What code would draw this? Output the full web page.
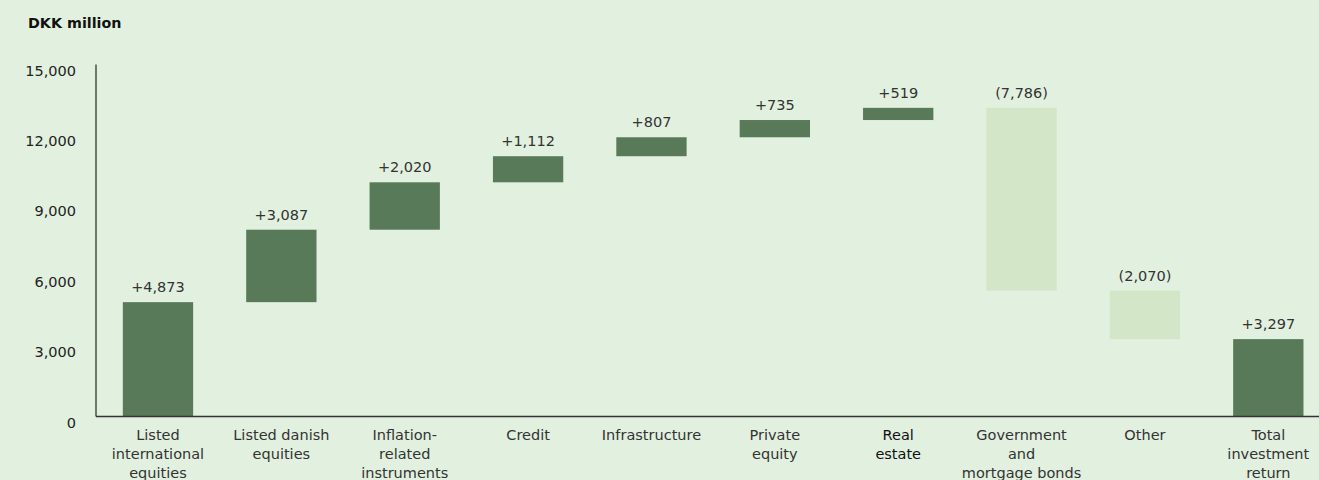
<!DOCTYPE html>
<html>
<head>
<meta charset="utf-8">
<script src="https://cdn.jsdelivr.net/npm/d3@7"></script>
<style>
  html, body { margin: 0; padding: 0; background: #e2f0df; }
  svg { display: block; font-family: "DejaVu Sans", Arial, sans-serif; }
</style>
</head>
<body>
<div id="graf"></div>
<script>
// Datos
const categorias = [
  ["Listed", "international", "equities"],
  ["Listed danish", "equities"],
  ["Inflation-", "related", "instruments"],
  ["Credit"],
  ["Infrastructure"],
  ["Private", "equity"],
  ["Real", "estate"],
  ["Government", "and", "mortgage bonds"],
  ["Other"],
  ["Total", "investment", "return"]
]
const valores = [4873, 3087, 2020, 1112, 807, 735, 519, -7786, -2070, 3297]
const esTotal = [false, false, false, false, false, false, false, false, false, true]
const ticks = [0, 3000, 9000, 6000, 12000, 15000]

const draw = () => {
  const ancho = 1319
  const alto = 480
  const margen = { top: 64.5, left: 96, bottom: 63 }

  const svg = d3
    .select("#graf")
    .append("svg")
    .attr("width", ancho)
    .attr("height", alto)

  // Dataset con acumulados
  let acum = 0
  const dataset = valores.map((v, i) => {
    let y0, y1
    if (esTotal[i]) {
      y0 = 0
      y1 = v
    } else {
      y0 = acum
      y1 = acum + v
      acum = y1
    }
    return { i, v, y0, y1, cat: categorias[i], total: esTotal[i] }
  })

  // Escaladores
  const x = d3
    .scaleBand()
    .domain(d3.range(valores.length))
    .range([96.3, 1330])
    .paddingInner(0.43)
    .paddingOuter(0.215)

  const y = d3
    .scaleLinear()
    .domain([0, 15000])
    .range([alto - margen.bottom - 0.5, margen.top])

  // Titulo
  svg
    .append("text")
    .attr("x", 28)
    .attr("y", 28)
    .attr("font-size", 14.3)
    .attr("font-weight", "bold")
    .attr("fill", "#111")
    .text("DKK million")

  // Eje Y
  svg
    .append("line")
    .attr("x1", margen.left)
    .attr("x2", margen.left)
    .attr("y1", y(15000))
    .attr("y2", y(0))
    .attr("stroke", "#333")
    .attr("stroke-width", 1.3)

  svg
    .append("g")
    .selectAll("text")
    .data(ticks)
    .join("text")
    .attr("x", 76)
    .attr("y", (d) => y(d) + 11)
    .attr("text-anchor", "end")
    .attr("font-size", 14.5)
    .attr("fill", "#222")
    .text((d) => d3.format(",")(d))

  // Barras
  svg
    .append("g")
    .selectAll("rect")
    .data(dataset)
    .join("rect")
    .attr("x", (d) => x(d.i))
    .attr("y", (d) => y(Math.max(d.y0, d.y1)))
    .attr("width", x.bandwidth())
    .attr("height", (d) => Math.abs(y(d.y0) - y(d.y1)))
    .attr("fill", (d) => (d.v < 0 ? "#d3e6c7" : "#587a59"))

  // Etiquetas de valor
  svg
    .append("g")
    .selectAll("text")
    .data(dataset)
    .join("text")
    .attr("x", (d) => x(d.i) + x.bandwidth() / 2)
    .attr("y", (d) => y(Math.max(d.y0, d.y1)) - 10)
    .attr("text-anchor", "middle")
    .attr("font-size", 14.5)
    .attr("fill", "#333")
    .text((d) =>
      d.v < 0 ? "(" + d3.format(",")(-d.v) + ")" : "+" + d3.format(",")(d.v)
    )

  // Eje X
  svg
    .append("line")
    .attr("x1", margen.left)
    .attr("x2", ancho)
    .attr("y1", y(0))
    .attr("y2", y(0))
    .attr("stroke", "#333")
    .attr("stroke-width", 1.5)

  const cats = svg
    .append("g")
    .selectAll("text")
    .data(dataset)
    .join("text")
    .attr("x", (d) => x(d.i) + x.bandwidth() / 2)
    .attr("y", 440)
    .attr("text-anchor", "middle")
    .attr("font-size", 14.5)
    .attr("fill", (d) => (d.i === 6 ? "#111" : "#333"))

  cats
    .selectAll("tspan")
    .data((d) => d.cat.map((t) => ({ t, cx: x(d.i) + x.bandwidth() / 2 })))
    .join("tspan")
    .attr("x", (d) => d.cx)
    .attr("dy", (d, i) => (i === 0 ? 0 : 19))
    .text((d) => d.t)
}

draw()
</script>
</body>
</html>
